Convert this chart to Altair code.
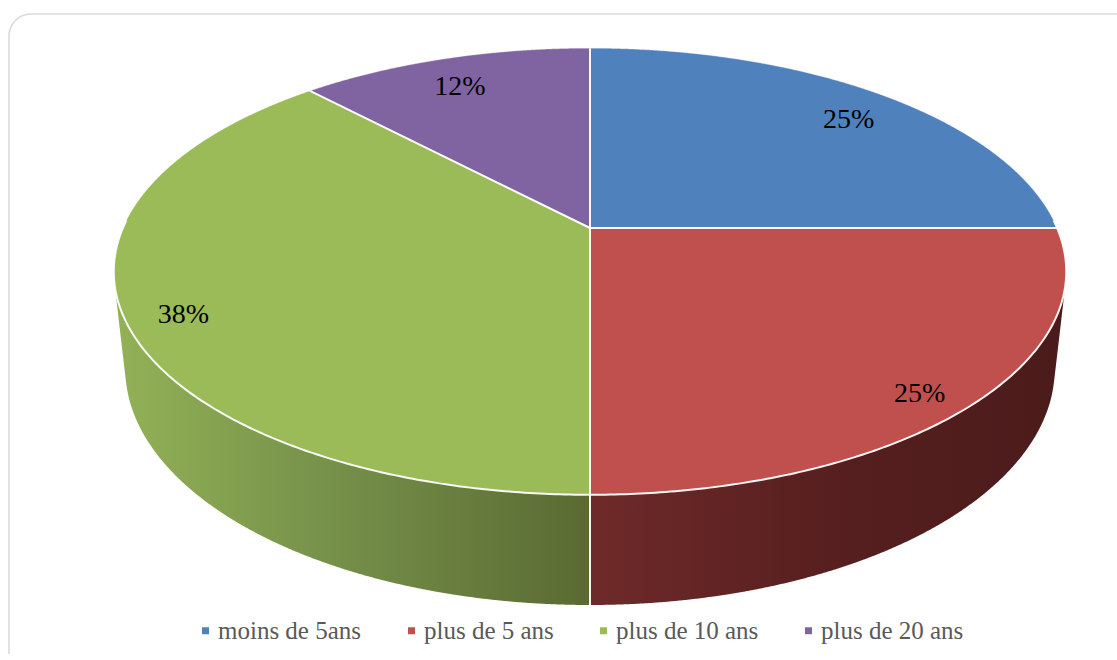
import math
import numpy as np
import pandas as pd
import altair as alt

# ---------------- data ----------------
categories = ["moins de 5ans", "plus de 5 ans", "plus de 10 ans", "plus de 20 ans"]
values = [25, 25, 38, 12]
labels = ["25%", "25%", "38%", "12%"]
top_colors = ["#4f81bd", "#c0504d", "#9bbb59", "#8064a2"]

# ---------------- 3D perspective geometry ----------------
CX, CY = 590.0, 228.0      # screen position of the pie centre
FOC = 2130.0               # focal length
DIST = 4.56                # camera distance (radius units)
SE = 0.46
CE = math.sqrt(1 - SE * SE)
THICK = 0.2355             # pie thickness (radius units)


def proj(r, phi_deg, z=0.0):
    phi = math.radians(phi_deg)
    u = r * math.sin(phi)
    v = r * math.cos(phi)
    depth = DIST + v * CE - z * SE
    return CX + FOC * u / depth, CY - FOC * (v * SE + z * CE) / depth


def arc(a, b, z=0.0, step=0.5):
    n = max(2, int(abs(b - a) / step) + 1)
    return [proj(1.0, p, z) for p in np.linspace(a, b, n)]


def slabs(poly):
    xs_poly = [p[0] for p in poly]
    xmin, xmax = min(xs_poly), max(xs_poly)
    xs = [xmin + 1e-6] + list(np.arange(math.ceil(xmin), math.floor(xmax) + 1, 1.0)) + [xmax - 1e-6]
    out = []
    n = len(poly)
    for x in xs:
        ys = []
        for i in range(n):
            x1, y1 = poly[i]
            x2, y2 = poly[(i + 1) % n]
            if abs(x1 - x2) < 1e-9:
                if abs(x - x1) < 1e-6:
                    ys += [y1, y2]
                continue
            if min(x1, x2) <= x <= max(x1, x2):
                t = (x - x1) / (x2 - x1)
                ys.append(y1 + t * (y2 - y1))
        if ys:
            out.append((float(x), min(ys), max(ys)))
    return out


def hull(points):
    pts = sorted(set(points))

    def cross(o, a, b):
        return (a[0] - o[0]) * (b[1] - o[1]) - (a[1] - o[1]) * (b[0] - o[0])

    lower, upper = [], []
    for p in pts:
        while len(lower) >= 2 and cross(lower[-2], lower[-1], p) <= 0:
            lower.pop()
        lower.append(p)
    for p in reversed(pts):
        while len(upper) >= 2 and cross(upper[-2], upper[-1], p) <= 0:
            upper.pop()
        upper.append(p)
    return lower[:-1] + upper[:-1]


total = float(sum(values))
bounds = [0.0]
for val in values:
    bounds.append(bounds[-1] + val / total * 360.0)

# top face slices
top_rows = []
for cat, a, b in zip(categories, bounds[:-1], bounds[1:]):
    poly = [(CX, CY)] + arc(a, b)
    for x, ylo, yhi in slabs(poly):
        top_rows.append({"category": cat, "x": x, "y": ylo, "y2": yhi})
top_df = pd.DataFrame(top_rows)


def wall_df(a, b):
    a2, b2 = max(a, 90.0), min(b, 270.0)
    pts = arc(a2, b2) + arc(a2, b2, z=-THICK)
    rows = [{"x": x, "y": ylo, "y2": yhi} for x, ylo, yhi in slabs(hull(pts))]
    return pd.DataFrame(rows)


red_wall = wall_df(bounds[1], bounds[2])
green_wall = wall_df(bounds[2], bounds[3])

# edge lines
line_rows = []
seg = 0
for b in bounds[:-1]:
    for i, (x, y) in enumerate([(CX, CY), proj(1.0, b)]):
        line_rows.append({"seg": seg, "idx": i, "x": x, "y": y})
    seg += 1
for i, (x, y) in enumerate(arc(88, 272)):
    line_rows.append({"seg": seg, "idx": i, "x": x, "y": y})
seg += 1
for i, (x, y) in enumerate([proj(1.0, 180.0), proj(1.0, 180.0, -THICK)]):
    line_rows.append({"seg": seg, "idx": i, "x": x, "y": y})
lines_df = pd.DataFrame(line_rows)

back_rows = [{"seg": 0, "idx": i, "x": x, "y": y} for i, (x, y) in enumerate(arc(-92, 92))]
back_df = pd.DataFrame(back_rows)

# labels at mid angle, slightly below the top surface
lab_rows = []
for lab, a, b in zip(labels, bounds[:-1], bounds[1:]):
    x, y = proj(0.88, (a + b) / 2, -0.03)
    lab_rows.append({"label": lab, "x": x, "y": y})
lab_df = pd.DataFrame(lab_rows)

# ---------------- chart ----------------
W, Hh = 1108, 640
xs = alt.Scale(domain=[9, 9 + W], nice=False, zero=False)
ys = alt.Scale(domain=[14, 14 + Hh], nice=False, zero=False, reverse=True)
X = alt.X("x:Q", scale=xs, axis=None)
Y = alt.Y("y:Q", scale=ys, axis=None, stack=None)

border = alt.Chart(pd.DataFrame({"a": [0]})).mark_rect(
    fill="transparent", stroke="#d9d9d9", strokeWidth=1.5, cornerRadius=22
).encode(x=alt.value(0), x2=alt.value(1300), y=alt.value(0), y2=alt.value(900))

green_grad = alt.LinearGradient(
    gradient="linear", x1=0, x2=1, y1=0, y2=0,
    stops=[alt.GradientStop(offset=0, color="#93b256"),
           alt.GradientStop(offset=0.45, color="#76914a"),
           alt.GradientStop(offset=1, color="#5a6a32")])
red_grad = alt.LinearGradient(
    gradient="linear", x1=0, x2=1, y1=0, y2=0,
    stops=[alt.GradientStop(offset=0, color="#6e2a29"),
           alt.GradientStop(offset=0.5, color="#571f1f"),
           alt.GradientStop(offset=1, color="#4a1b1a")])

gw = alt.Chart(green_wall).mark_area(color=green_grad, opacity=1).encode(x=X, y=Y, y2="y2:Q")
rw = alt.Chart(red_wall).mark_area(color=red_grad, opacity=1).encode(x=X, y=Y, y2="y2:Q")

top = alt.Chart(top_df).mark_area(opacity=1).encode(
    x=X, y=Y, y2="y2:Q",
    color=alt.Color(
        "category:N",
        scale=alt.Scale(domain=categories, range=top_colors),
        legend=alt.Legend(
            orient="none", direction="horizontal", legendX=184, legendY=604,
            title=None, symbolType="square", symbolSize=49, symbolOpacity=1,
            symbolStrokeWidth=0, labelFont="Liberation Serif", labelFontSize=25,
            labelColor="#595959", labelOffset=0, columnPadding=37, labelLimit=0,
        ),
    ),
    detail="category:N",
)

back = alt.Chart(back_df).mark_line(color="white", strokeWidth=1, opacity=0.3).encode(
    x=X, y=Y, detail="seg:N", order="idx:Q")
edges = alt.Chart(lines_df).mark_line(color="white", strokeWidth=2, opacity=0.95).encode(
    x=X, y=Y, detail="seg:N", order="idx:Q")

text = alt.Chart(lab_df).mark_text(
    font="Liberation Serif", fontSize=28, color="black", align="center", baseline="middle"
).encode(x=X, y=alt.Y("y:Q", scale=ys, axis=None), text="label:N")

chart = alt.layer(border, gw, rw, top, back, edges, text).properties(
    width=W, height=Hh,
    padding={"left": 9, "top": 14, "right": 0, "bottom": 0},
    autosize=alt.AutoSizeParams(type="none"),
).configure_view(stroke="transparent")

chart.save("out.html", embed_options={"renderer": "svg", "actions": False})
